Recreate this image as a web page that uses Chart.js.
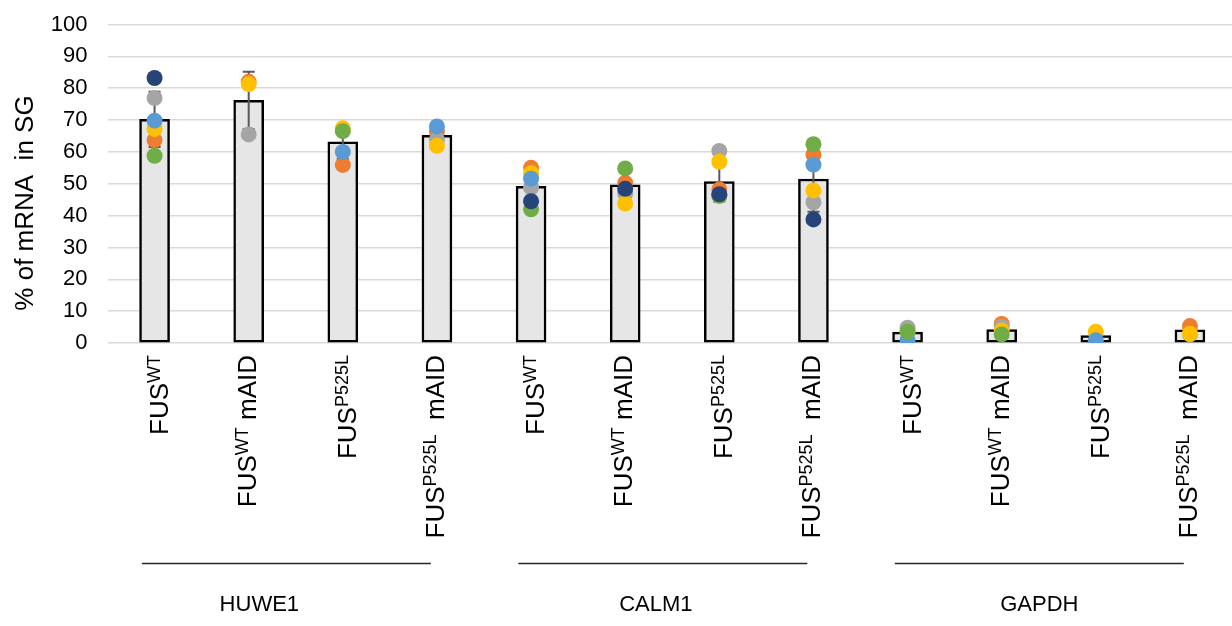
<!DOCTYPE html>
<html>
<head>
<meta charset="utf-8">
<script src="https://cdn.jsdelivr.net/npm/chart.js@4.4.1/dist/chart.umd.min.js"></script>
<style>
  html, body { margin: 0; padding: 0; background: #fff; overflow: hidden; width: 1232px; height: 626px; }
  #wrap { width: 1245px; height: 626px; }
</style>
</head>
<body>
<div id="wrap"><canvas id="c" width="1245" height="626"></canvas></div>
<script>
// Genes (groups) and the four FUS constructs shown for each
const genes = ['HUWE1', 'CALM1', 'GAPDH'];
const labelBase = ['FUS', 'FUS', 'FUS', 'FUS'];
const labelSup = ['WT', 'WT', 'P525L', 'P525L'];
const labelTail = ['', ' mAID', '', '  mAID'];
const categories = genes.flatMap(g => labelBase.map((b, k) => g + ' ' + b + labelSup[k] + labelTail[k]));

// Mean % of mRNA in stress granules, with its error bar
const meanValues = [70.2, 76.2, 63.2, 65.2, 49.2, 49.7, 50.7, 51.5, 3.4, 4.2, 2.3, 4.1];
const errValues  = [8.7, 9.0, 5.4, 2.7, 5.2, 4.1, 6.3, 10.3, 1.5, 1.4, 1.3, 1.1];

// Individual replicates
const repOrange = [63.7, 82.0, 55.9, 66.3, 55.0, 50.3, 48.2, 59.2, null, 6.0, null, 5.3];
const repGray   = [76.9, 65.5, null, 63.9, 48.8, 46.9, 60.3, 44.2, 4.8, 5.1, null, 2.7];
const repYellow = [67.2, 81.3, 67.4, 61.9, 53.3, 43.8, 56.9, 47.9, 3.4, 3.9, 3.5, 2.9];
const repBlue   = [69.8, null, 60.0, 68.0, 51.6, null, 46.3, 56.0, 0.9, null, 0.9, null];
const repGreen  = [58.8, null, 66.5, null, 42.0, 54.8, 46.2, 62.4, 3.6, 2.7, null, null];
const repNavy   = [83.2, null, null, null, 44.5, 48.4, 46.7, 38.8, null, null, null, null];

const yMin = 0, yMax = 100, yStep = 10;
const yTitle = '% of mRNA  in SG';

const FONT = "'Liberation Sans', Arial, Helvetica, sans-serif";
// horizontal nudge of each gene name relative to its bracket centre
const geneLabelShift = [-27, -7, 0];

// Error bars, rich category labels, gene brackets and the axis title
const decor = {
  id: 'decor',
  afterDatasetDraw(chart, args) {
    if (args.index !== 0) return;
    const ctx = chart.ctx, xs = chart.scales.x, ys = chart.scales.y;
    ctx.save();
    ctx.strokeStyle = '#595959';
    ctx.lineWidth = 2;
    meanValues.forEach((m, i) => {
      const e = errValues[i];
      const px = xs.getPixelForValue(i);
      const top = ys.getPixelForValue(m + e);
      const bot = ys.getPixelForValue(m - e);
      ctx.beginPath();
      ctx.moveTo(px, top); ctx.lineTo(px, bot);
      ctx.moveTo(px - 6, top); ctx.lineTo(px + 6, top);
      ctx.moveTo(px - 6, bot); ctx.lineTo(px + 6, bot);
      ctx.stroke();
    });
    ctx.restore();
  },
  afterDraw(chart) {
    const ctx = chart.ctx, xs = chart.scales.x, area = chart.chartArea;
    ctx.save();
    ctx.fillStyle = '#000';

    // rotated construct labels with superscripts
    categories.forEach((c, i) => {
      const k = i % 4;
      const px = xs.getPixelForValue(i);
      const hasTail = labelTail[k] !== '';
      const baseX = px + (hasTail ? 7 : 13);
      const topY = area.bottom + 12;
      ctx.save();
      ctx.translate(baseX, topY);
      ctx.rotate(-Math.PI / 2);
      ctx.textAlign = 'left';
      ctx.textBaseline = 'alphabetic';
      ctx.font = '26px ' + FONT;
      const wB = ctx.measureText(labelBase[k]).width;
      const wT = ctx.measureText(labelTail[k]).width;
      ctx.font = '18px ' + FONT;
      const wS = ctx.measureText(labelSup[k]).width;
      let cx = -(wB + wS + wT);
      ctx.font = '26px ' + FONT;
      ctx.fillText(labelBase[k], cx, 0);
      cx += wB;
      ctx.font = '18px ' + FONT;
      ctx.fillText(labelSup[k], cx, -8);
      cx += wS;
      if (hasTail) {
        ctx.font = '26px ' + FONT;
        ctx.fillText(labelTail[k], cx, 0);
      }
      ctx.restore();
    });

    // gene brackets and names
    genes.forEach((g, gi) => {
      const first = xs.getPixelForValue(gi * 4);
      const last = xs.getPixelForValue(gi * 4 + 3);
      const catW = (last - first) / 3;
      const mid = (first + last) / 2 - 0.1 * catW;
      const half = 1.535 * catW;
      ctx.strokeStyle = '#262626';
      ctx.lineWidth = 1.5;
      ctx.beginPath();
      ctx.moveTo(mid - half, 563.5);
      ctx.lineTo(mid + half, 563.5);
      ctx.stroke();
      ctx.font = '22px ' + FONT;
      ctx.textAlign = 'center';
      ctx.textBaseline = 'middle';
      ctx.fillText(g, mid + geneLabelShift[gi], 605);
    });

    // y axis title
    ctx.save();
    ctx.translate(26, 203);
    ctx.rotate(-Math.PI / 2);
    ctx.font = '26px ' + FONT;
    ctx.textAlign = 'center';
    ctx.textBaseline = 'middle';
    ctx.fillText(yTitle, 0, 0);
    ctx.restore();

    ctx.restore();
  }
};

const dot = (data, color, order) => ({
  type: 'line',
  data: data,
  showLine: false,
  pointRadius: 8,
  pointHoverRadius: 8,
  pointBackgroundColor: color,
  pointBorderWidth: 0,
  borderColor: color,
  order: order
});

new Chart(document.getElementById('c'), {
  type: 'bar',
  data: {
    labels: categories,
    datasets: [
      {
        type: 'bar',
        data: meanValues,
        backgroundColor: '#e6e6e6',
        borderColor: '#000',
        borderWidth: 2.5,
        borderSkipped: false,
        barThickness: 30,
        order: 10
      },
      dot(repOrange, '#ed7d31', 6),
      dot(repGray, '#a5a5a5', 5),
      dot(repYellow, '#ffc000', 4),
      dot(repBlue, '#5b9bd5', 3),
      dot(repGreen, '#70ad47', 2),
      dot(repNavy, '#264478', 1)
    ]
  },
  options: {
    responsive: false,
    animation: false,
    devicePixelRatio: 1,
    events: [],
    layout: { padding: { top: 24.5, left: 0, right: 0, bottom: 0 } },
    plugins: { legend: { display: false }, tooltip: { enabled: false } },
    scales: {
      x: {
        grid: { display: false },
        border: { display: false },
        ticks: { display: false },
        afterFit(s) { s.height = 283; }
      },
      y: {
        min: yMin, max: yMax,
        ticks: { stepSize: yStep, padding: 0, color: '#000', font: { family: FONT, size: 22 } },
        grid: { color: '#d9d9d9', lineWidth: 1.5, drawTicks: true, tickLength: 20, tickColor: 'rgba(0,0,0,0)' },
        border: { display: false },
        afterFit(s) { s.width = 107.5; }
      }
    }
  },
  plugins: [decor]
});
</script>
</body>
</html>
